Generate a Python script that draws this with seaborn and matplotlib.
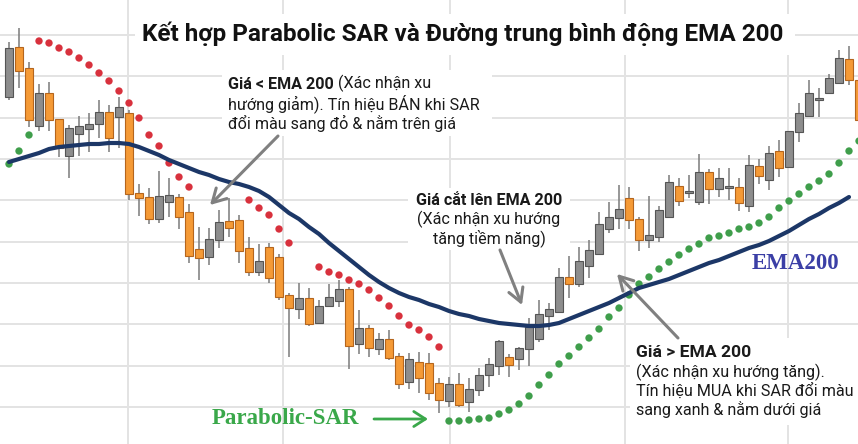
import numpy as np
import pandas as pd
import seaborn as sns
import matplotlib.pyplot as plt
from matplotlib.patches import Rectangle

W, H = 858, 444

# Du lieu nen (86 phien), doc tu hinh
open_ = [347, 397, 376, 318, 351, 325, 288, 310, 315, 320, 332, 327, 331, 251, 247, 225, 242, 247, 232, 195,
         187, 204, 223, 224, 196, 172, 197, 187, 149, 135, 146, 121, 138, 143, 155, 100, 116, 95, 105, 88,
         62, 82, 81, 61, 43, 60, 42, 54, 69, 78, 87, 85, 95, 105, 128, 132, 167, 160, 178, 190,
         215, 226, 246, 225, 204, 207, 227, 258, 251, 242, 272, 255, 256, 257, 238, 278, 264, 293, 277, 312,
         328, 344, 351, 361, 385, 364]
high = [402, 416, 382, 360, 362, 325, 319, 328, 331, 344, 339, 347, 334, 260, 256, 273, 266, 250, 240, 217,
        216, 234, 246, 229, 207, 200, 201, 190, 151, 161, 156, 144, 160, 164, 157, 134, 119, 111, 114, 91,
        91, 92, 91, 66, 67, 71, 66, 76, 86, 104, 90, 97, 126, 144, 141, 176, 188, 197, 204, 232,
        242, 259, 257, 227, 248, 238, 269, 266, 269, 290, 275, 276, 276, 266, 289, 285, 298, 304, 313, 341,
        364, 356, 370, 394, 398, 374]
low = [344, 356, 317, 313, 313, 287, 266, 288, 292, 306, 292, 296, 244, 228, 220, 221, 227, 215, 181, 164,
       179, 196, 207, 181, 168, 168, 161, 144, 87, 125, 118, 120, 137, 137, 75, 90, 87, 89, 84, 55,
       55, 51, 44, 31, 37, 37, 32, 48, 57, 69, 67, 74, 78, 102, 114, 132, 146, 157, 166, 190,
       211, 215, 215, 193, 196, 202, 227, 238, 246, 239, 240, 247, 244, 233, 232, 260, 254, 267, 277, 302,
       327, 327, 351, 361, 359, 313]
close = [396, 373, 324, 351, 324, 296, 316, 318, 320, 332, 306, 337, 250, 246, 225, 248, 249, 227, 188, 186,
         205, 222, 216, 193, 172, 183, 166, 147, 136, 146, 120, 138, 147, 155, 98, 116, 96, 105, 86, 60,
         85, 66, 51, 44, 60, 39, 55, 69, 80, 103, 79, 96, 117, 130, 135, 167, 160, 183, 194, 220,
         227, 235, 224, 204, 209, 234, 262, 243, 252, 272, 255, 266, 257, 241, 279, 268, 291, 276, 313, 331,
         351, 345, 366, 386, 364, 324]

# Parabolic SAR (nan = khong co diem)
nan = np.nan
sar = [280, 293, 309, 403, 401, 396, 392, 386, 379, 371, 363, 353, 341, 326, 309, 298, 281, 267, 257, nan,
       nan, nan, nan, nan, 244, 236, 229, 215, 201, nan, nan, 177, 172, 169, 164, 160, 154, 146, 138, 128,
       119, 114, 107, 97, 23, 23, 24, 25, 26, 30, 34, 40, 48, 59, 69, 80, 88, 97, 106, 115,
       127, 136, 149, 160, 167, 175, 182, 189, 195, 200, 206, 208, 211, 215, 217, 221, 227, 236, 243, 250,
       257, 263, 270, 281, 293, 303]

# EMA 200
ema200 = [282, 285, 288, 291, 295, 297, 298, 299, 300, 300, 301, 301, 300, 297, 293, 289, 284, 280, 276, 272,
          269, 265, 262, 260, 257, 253, 247, 239, 231, 225, 217, 210, 201, 193, 185, 177, 169, 162, 156, 151,
          147, 144, 140, 137, 133, 130, 128, 125, 123, 121, 120, 119, 118, 118, 119, 121, 125, 129, 133, 137,
          141, 146, 151, 156, 159, 162, 165, 169, 173, 177, 181, 184, 188, 192, 196, 199, 203, 208, 213, 219,
          225, 230, 236, 241, 247]

df = pd.DataFrame({'open': open_, 'high': high, 'low': low, 'close': close, 'sar': sar})
df['t'] = np.arange(len(df))
df['side'] = np.where(df['sar'] > df['close'], 'ban', 'mua')
up = (df['close'] >= df['open']).values

sns.set_theme(style='white')
plt.rcParams['font.family'] = ['Roboto', 'DejaVu Sans']

fig = plt.figure(figsize=(W / 100, H / 100), dpi=100)
ax = fig.add_axes([0, 0, 1, 1])
ax.set_xlim(-0.9, 84.9)
ax.set_ylim(0, 444)

# luoi
ax.set_yticks(np.linspace(37, 409, 10))
ax.set_xticks([11.9, 27.4, 44.1, 61.6, 77.9])
ax.grid(True, color='#e3e3e3', lw=1.4)
ax.set_axisbelow(True)
ax.tick_params(length=0, labelbottom=False, labelleft=False)
for s in ax.spines.values():
    s.set_visible(False)


def px(x, y):
    return x / W, 1 - y / H


def box(x0, y0, x1, y1):
    ax.add_patch(Rectangle(px(x0, y1), (x1 - x0) / W, (y1 - y0) / H, transform=ax.transAxes,
                           facecolor='white', edgecolor='none', zorder=1))


box(135, 14, 795, 55)
box(222, 70, 492, 136)
box(408, 188, 570, 250)
box(630, 338, 858, 425)

# nen
ax.vlines(df['t'], df['low'], df['high'], colors='#7b7b7b', lw=1.1, zorder=2)
bottom = np.minimum(df['open'], df['close'])
height = np.maximum((df['close'] - df['open']).abs(), 1.5)
ax.bar(df['t'], height, bottom=bottom, width=0.78,
       color=np.where(up, '#8d8d8d', '#f59a36'),
       edgecolor=np.where(up, '#555555', '#b5651d'), linewidth=0.8, zorder=3)

# SAR
sns.scatterplot(data=df.dropna(subset=['sar']), x='t', y='sar', hue='side',
                palette={'ban': '#d8313d', 'mua': '#3f9e4b'}, s=28, linewidth=0,
                legend=False, ax=ax, zorder=4)

# EMA
sns.lineplot(x=np.arange(len(ema200)), y=ema200, color='#1c3767', lw=3.0, ax=ax, zorder=5)
ax.set_xlabel('')
ax.set_ylabel('')


def put(x, y, s, **kw):
    kw.setdefault('va', 'baseline')
    kw.setdefault('color', '#1a1a1a')
    return ax.text(*px(x, y), s, transform=ax.transAxes, zorder=6, **kw)


put(463, 41, 'Kết hợp Parabolic SAR và Đường trung bình động EMA 200', ha='center',
    fontsize=17.5, weight='bold', color='#111111')

fs = 11.6
t1 = put(228, 89, 'Giá < EMA 200', fontsize=fs, weight='bold')
ax.annotate(' (Xác nhận xu', xy=(1, 0), xycoords=t1, va='bottom', ha='left', fontsize=fs, color='#1a1a1a')
put(228, 109, 'hướng giảm). Tín hiệu BÁN khi SAR', fontsize=fs)
put(228, 129, 'đổi màu sang đỏ & nằm trên giá', fontsize=fs)

put(489, 205, 'Giá cắt lên EMA 200', ha='center', fontsize=fs, weight='bold')
put(489, 224, '(Xác nhận xu hướng', ha='center', fontsize=fs)
put(489, 243, 'tăng tiềm năng)', ha='center', fontsize=fs)

put(636, 357, 'Giá > EMA 200', fontsize=12.6, weight='bold')
put(636, 377, '(Xác nhận xu hướng tăng).', fontsize=fs)
put(636, 396, 'Tín hiệu MUA khi SAR đổi màu', fontsize=fs)
put(636, 415, 'sang xanh & nằm dưới giá', fontsize=fs)

put(752, 269, 'EMA200', family=['Liberation Serif'], weight='bold', fontsize=16.5, color='#3b3fa6')
put(212, 424, 'Parabolic-SAR', family=['Liberation Serif'], weight='bold', fontsize=16.5, color='#3aa84a')

# mui ten
ax.annotate('', xy=px(428, 419), xytext=px(374, 419), xycoords='axes fraction',
            arrowprops=dict(arrowstyle='->,head_length=0.7,head_width=0.45', color='#3aa84a', lw=2,
                            shrinkA=0, shrinkB=0), zorder=6)
for (x0, y0), (x1, y1) in [((278, 136), (210, 205)), ((500, 250), (522, 305)), ((678, 338), (617, 274))]:
    ax.annotate('', xy=px(x1, y1), xytext=px(x0, y0), xycoords='axes fraction',
                arrowprops=dict(arrowstyle='->,head_length=0.8,head_width=0.45', color='#808080', lw=2.2,
                                shrinkA=0, shrinkB=0), zorder=6)

fig.savefig('out.png', dpi=100)
